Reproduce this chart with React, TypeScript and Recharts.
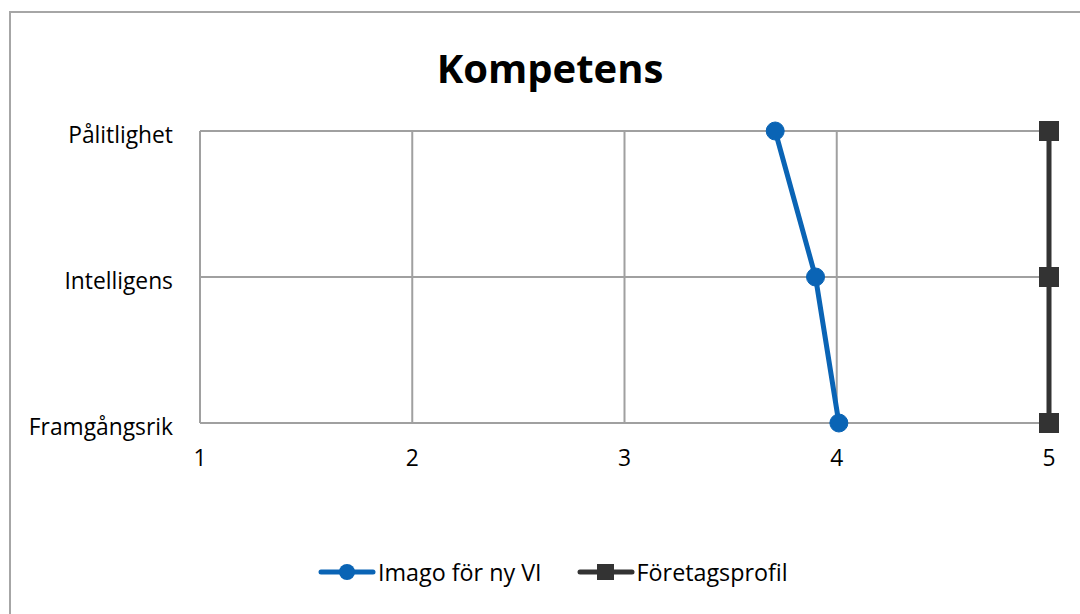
import React from "react";
import { LineChart, Line, XAxis, YAxis, CartesianGrid } from "recharts";

const categories = ["Pålitlighet", "Intelligens", "Framgångsrik"];
const imagoValues = [3.71, 3.9, 4.01];
const profilValues = [5, 5, 5];
const xTicks = [1, 2, 3, 4, 5];

const BLUE = "#0A64B5";
const DARK = "#333333";
const FONT = "'Open Sans', 'Liberation Sans', sans-serif";

const data = categories.map((name, i) => ({
  name,
  imago: imagoValues[i],
  profil: profilValues[i],
}));

const SquareDot = (props: any) => {
  const { cx, cy } = props;
  if (cx == null || cy == null) return null;
  return <rect x={cx - 10} y={cy - 10} width={20} height={20} fill={DARK} />;
};

const LegendContent = () => (
  <div style={{ display: "flex", alignItems: "center", fontFamily: FONT, fontSize: 23.3, color: "#000" }}>
    <svg width={58} height={20} style={{ marginRight: 2 }}>
      <line x1={3} y1={10} x2={55} y2={10} stroke={BLUE} strokeWidth={5} strokeLinecap="round" />
      <circle cx={29} cy={10} r={8} fill={BLUE} />
    </svg>
    <span style={{ marginRight: 35 }}>Imago för ny VI</span>
    <svg width={58} height={20} style={{ marginRight: 2 }}>
      <line x1={3} y1={10} x2={55} y2={10} stroke={DARK} strokeWidth={5} strokeLinecap="round" />
      <rect x={20} y={2} width={17} height={16} fill={DARK} />
    </svg>
    <span>Företagsprofil</span>
  </div>
);

export default function App() {
  return (
    <div style={{ position: "absolute", left: 0, top: 0, width: 1080, height: 614, overflow: "hidden", background: "#fff" }}>
      <div
        style={{
          position: "absolute",
          left: 9,
          top: 11,
          width: 1100,
          height: 640,
          border: "2px solid #a6a6a6",
          boxSizing: "border-box",
        }}
      />
      <div
        style={{
          position: "absolute",
          left: 0,
          width: 1100,
          top: 43,
          textAlign: "center",
          fontFamily: FONT,
          fontWeight: "bold",
          fontSize: 40,
          lineHeight: "50px",
          color: "#000",
        }}
      >
        Kompetens
      </div>
      <div style={{ position: "absolute", left: 0, top: 0 }}>
        <LineChart
          width={1080}
          height={614}
          data={data}
          layout="vertical"
          margin={{ top: 131, right: 31, bottom: 151, left: 0 }}
        >
          <CartesianGrid stroke="#a0a0a0" strokeWidth={2} />
          <XAxis
            type="number"
            domain={[1, 5]}
            ticks={xTicks}
            axisLine={false}
            tickLine={false}
            tickSize={0}
            tickMargin={27}
            height={40}
            tick={{ fill: "#000", fontSize: 22.8, fontFamily: FONT }}
          />
          <YAxis
            type="category"
            dataKey="name"
            width={200}
            axisLine={false}
            tickLine={false}
            tickSize={0}
            tickMargin={27}
            tick={{ fill: "#000", fontSize: 22.8, fontFamily: FONT, dy: 4 }}
          />
          <Line
            dataKey="imago"
            name="Imago för ny VI"
            stroke={BLUE}
            strokeWidth={5}
            dot={{ r: 9, fill: BLUE, stroke: BLUE, strokeWidth: 1 }}
            isAnimationActive={false}
          />
          <Line
            dataKey="profil"
            name="Företagsprofil"
            stroke={DARK}
            strokeWidth={5}
            dot={<SquareDot />}
            isAnimationActive={false}
          />
        </LineChart>
      </div>
      <div style={{ position: "absolute", left: 318, top: 556 }}>
        <LegendContent />
      </div>
    </div>
  );
}
